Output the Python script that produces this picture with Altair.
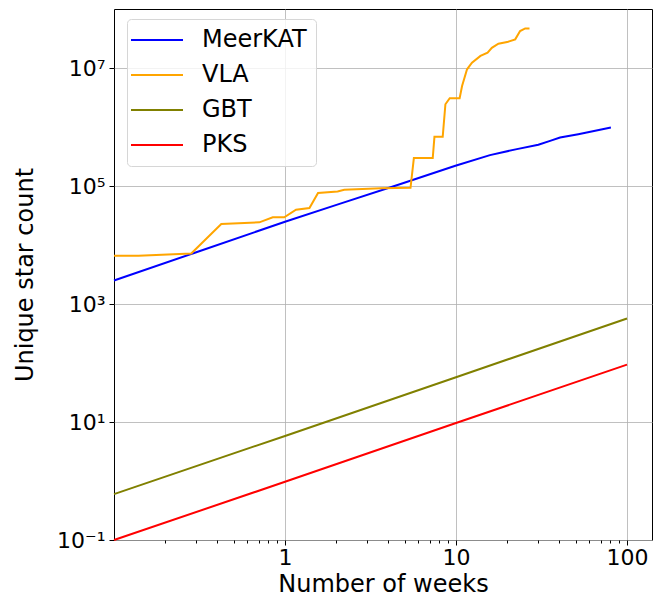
import math
import altair as alt
import pandas as pd

series_names = ["MeerKAT", "VLA", "GBT", "PKS"]
series_colors = ["#0000ff", "#ffa500", "#808000", "#ff0000"]

meerkat_weeks = [0.1, 0.3, 1, 2, 4.74, 9.92, 15.8, 22.7, 30.3, 35.5, 40.6, 51.9, 80.5]
meerkat_stars = [2500, 7470, 24800, 47800, 108000, 220000, 334000, 422000, 499000, 582000, 662000, 756000, 978000]

vla_weeks = [0.1, 0.139, 0.283, 0.424, 0.708, 0.848, 0.99, 1.16, 1.39, 1.56, 2.03, 2.22, 3.63,
             5.42, 5.67, 7.31, 7.48, 8.36, 8.67, 9.19, 10.5, 10.85, 11.6, 12.4, 13.9, 15.3,
             16.2, 17.7, 19.9, 22.2, 23.7, 25.4, 26.9]
vla_stars = [6600, 6600, 7200, 22700, 24200, 29400, 29400, 39600, 42400, 76000, 81000, 86500, 92000,
             93000, 297000, 297000, 681000, 681000, 2430000, 3070000, 3070000, 4960000, 9500000,
             12300000, 16000000, 18200000, 22000000, 25800000, 27500000, 30600000, 42300000,
             46900000, 46900000]

gbt_weeks = [0.1, 1, 10, 100]
gbt_stars = [0.6, 5.8, 57.4, 569]

pks_weeks = [0.1, 1, 10, 100]
pks_stars = [0.1, 0.97, 9.6, 94]

x_major = [1, 10, 100]
x_minor = [0.2, 0.3, 0.4, 0.5, 0.6, 0.7, 0.8, 0.9,
           2, 3, 4, 5, 6, 7, 8, 9,
           20, 30, 40, 50, 60, 70, 80, 90]
y_major = [0.1, 10, 1000, 100000, 10000000]
y_labels = ["10⁻¹", "10¹", "10³", "10⁵", "10⁷"]

rows = []
for name, xs, ys in [("MeerKAT", meerkat_weeks, meerkat_stars),
                     ("VLA", vla_weeks, vla_stars),
                     ("GBT", gbt_weeks, gbt_stars),
                     ("PKS", pks_weeks, pks_stars)]:
    for i, (xv, yv) in enumerate(zip(xs, ys)):
        rows.append({"series": name, "weeks": xv, "stars": yv, "idx": i})
df = pd.DataFrame(rows)

# y label expression (superscript powers of ten)
expr = "''"
for v, lab in reversed(list(zip(y_major, y_labels))):
    expr = f"(abs(log(datum.value)/log(10) - ({math.log10(v)})) < 0.01) ? '{lab}' : ({expr})"

major_test = "indexof(" + str(x_major) + ", datum.value) >= 0"

FONT = "DejaVu Sans"

chart = alt.Chart(df).mark_line(strokeWidth=2).encode(
    x=alt.X("weeks:Q",
            scale=alt.Scale(type="log", domain=[0.1, 140], nice=False),
            axis=alt.Axis(
                title="Number of weeks",
                values=sorted(x_major + x_minor),
                labelExpr=f"({major_test}) ? datum.label : ''",
                format="~g",
                labelOverlap=False,
                labelBound=False,
                labelFlush=False,
                tickSize={"condition": {"test": major_test, "value": 5}, "value": 3},
                gridOpacity={"condition": {"test": major_test, "value": 1}, "value": 0},
                labelPadding=2,
                titlePadding=4,
            )),
    y=alt.Y("stars:Q",
            scale=alt.Scale(type="log", domain=[0.1, 1e8], nice=False),
            axis=alt.Axis(
                title="Unique star count",
                values=y_major,
                labelExpr=expr,
                labelOverlap=False,
                labelFlush=False,
                tickSize=5,
                labelPadding=4,
                titlePadding=19,
            )),
    color=alt.Color("series:N",
                    scale=alt.Scale(domain=series_names, range=series_colors),
                    sort=series_names,
                    legend=alt.Legend(
                        title=None, orient="none", legendX=13, legendY=10,
                        symbolType="M-2.6,0H2.6", symbolSize=400, symbolStrokeWidth=2,
                        symbolOffset=9,
                        labelFontSize=24, labelFont=FONT, labelColor="black",
                        labelOffset=33, rowPadding=11, padding=9,
                        strokeColor="#d6d6d6", fillColor="rgba(255,255,255,0.8)",
                        cornerRadius=4,
                    )),
    order="idx:Q",
).properties(
    width=538, height=531,
    autosize=alt.AutoSizeParams(type="none"),
    padding={"left": 106, "top": 1, "right": 2, "bottom": 56},
).configure_view(
    stroke="black", strokeWidth=1,
).configure_axis(
    labelFont=FONT, titleFont=FONT, labelFontSize=22, titleFontSize=24,
    labelColor="black", titleColor="black", titleFontWeight="normal",
    tickColor="black", domain=False, grid=True, gridColor="#b0b0b0", gridWidth=0.8,
)

chart.save("out.html", embed_options={"renderer": "svg", "actions": False})
